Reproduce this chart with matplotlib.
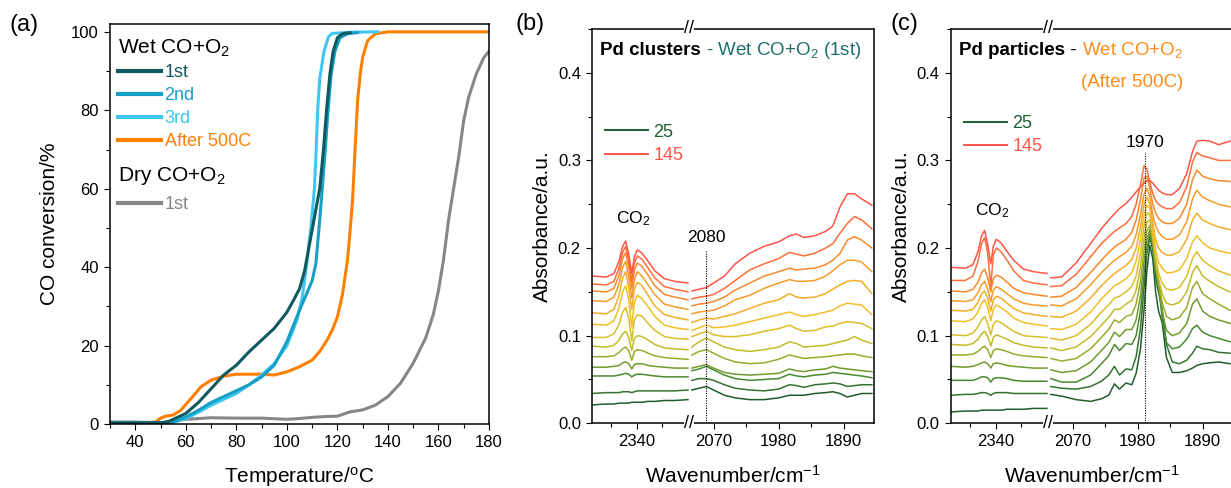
import matplotlib
matplotlib.use("Agg")
from matplotlib import pyplot as plt
from matplotlib.colors import LinearSegmentedColormap
from matplotlib.ticker import MultipleLocator, FixedLocator, FormatStrFormatter
from matplotlib.lines import Line2D

plt.rcParams["font.family"] = ["Liberation Sans", "DejaVu Sans"]
plt.rcParams["mathtext.fontset"] = "custom"
plt.rcParams["mathtext.rm"] = "Liberation Sans"
plt.rcParams["mathtext.it"] = "Liberation Sans:italic"
plt.rcParams["mathtext.bf"] = "Liberation Sans:bold"

# ---------------- panel (a): light-off curves ----------------
t_1st = [30, 40, 45, 50, 53, 56, 60, 65, 70, 75, 80, 85, 90, 95, 100, 103, 105, 107, 109, 111,
         113, 114.5, 115.7, 117, 118.3, 120, 122, 125]
c_1st = [0.3, 0.3, 0.3, 0.3, 0.6, 1.5, 2.7, 5.5, 9.0, 12.5, 15.0, 18.4, 21.4, 24.4, 28.5, 32.0, 34.5, 39.0, 46.0, 53.0,
         60.0, 70.0, 80.0, 89.0, 95.0, 98.5, 99.5, 99.8]
t_2nd = [30, 45, 50, 54, 57, 60, 65, 70, 75, 80, 85, 90, 95, 100, 105, 108, 110, 111.5, 113, 114,
         115.2, 116.3, 117.5, 119, 121, 124, 128]
c_2nd = [0.3, 0.3, 0.3, 0.4, 1.0, 1.8, 3.5, 5.5, 7.0, 8.5, 10.0, 12.0, 15.0, 21.0, 29.0, 33.5, 36.5, 41.0, 52.0, 60.0,
         70.0, 80.0, 89.0, 95.0, 98.5, 99.5, 99.8]
t_3rd = [43, 50, 54, 57, 60, 65, 70, 75, 80, 85, 90, 95, 100, 104, 106, 107.7, 109.5, 110.9, 111.6, 112.2,
         113, 114.7, 116.5, 118, 125, 136]
c_3rd = [0.3, 0.2, 0.3, 0.8, 1.4, 3.0, 4.8, 6.3, 7.8, 10.0, 12.5, 15.4, 20.0, 26.5, 32.0, 40.0, 50.0, 60.0, 70.0, 80.0,
         88.0, 95.0, 98.8, 99.6, 99.9, 100.0]
t_500 = [30, 40, 48, 50, 52, 55, 58, 60, 63, 66, 70, 75, 80, 85, 90, 95, 100, 105, 110, 113, 116, 118,
         120, 122, 124, 125, 126, 127, 128, 129, 130, 132, 135, 140, 150, 165, 180]
c_500 = [0.3, 0.3, 0.5, 1.5, 2.0, 2.3, 3.5, 5.0, 7.2, 9.5, 11.2, 12.2, 12.7, 12.7, 12.7, 12.5, 13.3, 14.6, 16.3, 18.5,
         21.5, 24.0, 27.3, 33.0, 41.8, 49.0, 57.0, 70.0, 82.5, 89.0, 93.5, 97.8, 99.5, 100.0, 100.0, 100.0, 100.0]
t_dry = [30, 40, 50, 55, 60, 65, 70, 80, 90, 100, 105, 110, 115, 120, 125, 130, 135, 140, 145, 150,
         155, 158, 160, 162, 164, 166, 168, 170, 172, 175, 178, 180]
c_dry = [0.5, 0.5, 0.3, 0.8, 1.2, 1.4, 1.6, 1.5, 1.5, 1.2, 1.4, 1.7, 1.9, 2.0, 3.1, 3.6, 4.8, 7.0, 10.4, 15.5,
         22.0, 28.0, 34.0, 41.8, 52.0, 60.0, 68.0, 77.4, 83.4, 89.3, 93.5, 95.0]

# ---------------- panels (b) and (c): DRIFTS spectra ----------------
temps = [145, 135, 125, 115, 105, 95, 85, 75, 65, 55, 45, 35, 25]
wn_co2 = [2428, 2400, 2385, 2375, 2368, 2362, 2356, 2350, 2345, 2339, 2330, 2318, 2305, 2286, 2266, 2240]

clusters_co2 = [
    [.168, .167, .171, .185, .202, .208, .193, .171, .190, .198, .194, .185, .174, .165, .162, .160],
    [.159, .158, .162, .177, .195, .202, .186, .162, .183, .191, .187, .177, .166, .156, .153, .150],
    [.151, .150, .154, .169, .188, .195, .178, .154, .175, .183, .179, .169, .157, .147, .144, .141],
    [.140, .139, .144, .159, .178, .185, .167, .143, .164, .173, .168, .158, .147, .136, .133, .130],
    [.126, .125, .130, .146, .166, .173, .155, .130, .153, .161, .157, .146, .134, .124, .121, .118],
    [.113, .112, .117, .132, .150, .157, .141, .110, .138, .146, .142, .133, .122, .112, .109, .107],
    [.098, .098, .102, .113, .127, .132, .120, .094, .118, .124, .122, .114, .106, .099, .097, .096],
    [.088, .087, .089, .095, .102, .105, .098, .083, .097, .100, .099, .095, .090, .086, .085, .084],
    [.076, .076, .077, .081, .085, .087, .083, .072, .082, .084, .083, .080, .077, .075, .074, .073],
    [.064, .064, .065, .066, .069, .070, .068, .062, .067, .068, .068, .066, .065, .064, .063, .063],
    [.054, .054, .054, .055, .056, .057, .056, .053, .055, .056, .056, .055, .054, .053, .053, .053],
    [.034, .035, .035, .035, .036, .036, .036, .035, .036, .037, .037, .037, .037, .037, .037, .038],
    [.021, .022, .022, .023, .023, .023, .023, .024, .024, .024, .024, .025, .025, .026, .026, .027],
]

wn_clusters_co = [2100, 2090, 2080, 2070, 2055, 2040, 2020, 2000, 1980, 1965,
                  1955, 1945, 1930, 1915, 1905, 1895, 1885, 1875, 1865, 1851]
clusters_co = [
    [.151, .153, .155, .160, .168, .182, .194, .202, .207, .214, .216, .212, .214, .219, .225, .247, .262, .262, .256, .249],
    [.142, .144, .145, .147, .154, .163, .175, .182, .188, .195, .193, .191, .194, .200, .205, .217, .228, .236, .232, .222],
    [.134, .136, .137, .139, .144, .152, .160, .168, .173, .177, .175, .176, .177, .181, .186, .194, .209, .213, .209, .200],
    [.125, .127, .128, .129, .134, .141, .146, .154, .160, .164, .162, .162, .163, .168, .174, .181, .186, .186, .184, .173],
    [.115, .118, .120, .119, .122, .125, .131, .137, .141, .148, .144, .143, .144, .148, .153, .158, .162, .163, .162, .148],
    [.106, .109, .112, .109, .110, .112, .116, .120, .124, .127, .124, .122, .124, .127, .129, .134, .137, .136, .135, .124],
    [.099, .102, .105, .101, .099, .099, .101, .105, .108, .112, .108, .105, .106, .110, .111, .114, .116, .115, .114, .108],
    [.087, .093, .097, .093, .087, .084, .082, .084, .087, .093, .091, .087, .088, .089, .091, .093, .095, .099, .095, .091],
    [.078, .082, .084, .080, .074, .070, .068, .069, .073, .078, .076, .074, .075, .076, .077, .078, .079, .079, .077, .075],
    [.063, .065, .067, .063, .058, .056, .055, .056, .057, .062, .060, .059, .061, .062, .065, .063, .062, .061, .060, .059],
    [.060, .062, .065, .061, .055, .051, .049, .050, .051, .056, .054, .053, .055, .056, .058, .057, .056, .055, .054, .052],
    [.049, .051, .051, .049, .044, .040, .038, .037, .039, .044, .043, .041, .044, .045, .046, .045, .042, .043, .044, .044],
    [.038, .040, .042, .038, .032, .029, .027, .027, .029, .032, .032, .032, .034, .035, .036, .034, .030, .032, .034, .034],
]

particles_co2 = [
    [.178, .177, .181, .196, .214, .220, .204, .182, .202, .210, .206, .196, .186, .176, .173, .171],
    [.163, .163, .168, .185, .205, .212, .194, .156, .192, .200, .196, .186, .174, .163, .160, .158],
    [.151, .150, .153, .161, .172, .176, .166, .150, .165, .169, .167, .161, .154, .149, .147, .145],
    [.140, .139, .141, .149, .158, .162, .153, .139, .152, .156, .153, .148, .142, .137, .135, .134],
    [.129, .128, .130, .138, .148, .151, .143, .128, .141, .145, .143, .137, .131, .126, .124, .122],
    [.117, .116, .119, .127, .137, .141, .132, .117, .130, .135, .132, .127, .120, .115, .113, .111],
    [.101, .100, .103, .110, .118, .122, .114, .101, .113, .117, .115, .110, .105, .100, .099, .098],
    [.090, .089, .091, .096, .102, .105, .099, .088, .098, .101, .099, .096, .092, .089, .087, .086],
    [.078, .078, .079, .082, .086, .088, .084, .075, .083, .085, .084, .082, .079, .077, .076, .075],
    [.065, .064, .065, .067, .069, .070, .068, .063, .068, .069, .068, .066, .065, .064, .063, .063],
    [.049, .049, .049, .051, .053, .053, .052, .047, .051, .052, .052, .051, .049, .048, .048, .048],
    [.032, .033, .033, .034, .035, .035, .034, .032, .034, .035, .035, .035, .034, .034, .034, .034],
    [.013, .014, .014, .014, .015, .015, .015, .015, .015, .015, .015, .016, .016, .016, .017, .017],
]

wn_particles_co = [2100, 2085, 2065, 2045, 2030, 2020, 2012, 2005, 1996, 1988, 1982, 1976, 1971, 1967, 1963,
                   1959, 1955, 1951, 1946, 1940, 1932, 1922, 1912, 1904, 1898, 1890, 1880, 1868, 1852]
particles_co = [
    [.166, .167, .183, .205, .222, .232, .239, .245, .251, .258, .264, .270, .274, .277, .277,
     .274, .270, .266, .263, .261, .261, .268, .285, .310, .322, .323, .322, .318, .322],
    [.156, .157, .170, .190, .205, .213, .219, .223, .228, .236, .250, .272, .294, .290, .275,
     .262, .254, .250, .247, .245, .245, .252, .270, .298, .309, .305, .303, .300, .300],
    [.144, .145, .155, .172, .186, .195, .201, .205, .210, .218, .232, .255, .280, .282, .268,
     .250, .240, .234, .230, .228, .228, .234, .250, .278, .289, .282, .279, .277, .276],
    [.135, .134, .142, .158, .172, .180, .186, .190, .195, .202, .215, .238, .262, .268, .258,
     .238, .225, .218, .213, .210, .210, .215, .230, .256, .266, .258, .254, .250, .247],
    [.122, .121, .128, .143, .157, .165, .171, .175, .180, .187, .200, .224, .250, .258, .250,
     .228, .210, .200, .195, .192, .192, .196, .210, .232, .240, .232, .228, .224, .221],
    [.108, .107, .113, .127, .142, .150, .157, .160, .165, .172, .185, .210, .238, .249, .245,
     .222, .198, .184, .177, .172, .172, .175, .188, .207, .214, .206, .200, .197, .194],
    [.097, .095, .100, .113, .127, .135, .143, .145, .150, .156, .168, .194, .226, .240, .238,
     .218, .190, .172, .160, .153, .152, .155, .168, .188, .196, .186, .180, .174, .169],
    [.086, .083, .087, .099, .112, .121, .130, .130, .136, .140, .152, .178, .212, .230, .232,
     .214, .185, .165, .148, .137, .135, .138, .150, .172, .180, .168, .162, .156, .150],
    [.074, .071, .074, .085, .098, .107, .118, .115, .122, .124, .136, .162, .198, .220, .226,
     .210, .180, .162, .138, .122, .118, .121, .132, .155, .162, .148, .142, .136, .129],
    [.061, .058, .060, .070, .083, .092, .104, .099, .107, .107, .118, .145, .185, .210, .221,
     .207, .176, .160, .128, .106, .100, .103, .114, .136, .142, .128, .122, .118, .114],
    [.051, .047, .047, .055, .068, .077, .090, .083, .091, .090, .100, .128, .170, .200, .216,
     .204, .172, .158, .120, .092, .085, .087, .096, .108, .112, .104, .100, .097, .093],
    [.042, .040, .039, .042, .048, .055, .065, .055, .062, .061, .076, .108, .155, .195, .212,
     .198, .165, .150, .130, .090, .070, .068, .072, .080, .088, .085, .084, .081, .080],
    [.033, .031, .027, .025, .028, .032, .045, .039, .046, .044, .057, .085, .130, .175, .203,
     .188, .150, .128, .115, .075, .058, .058, .060, .063, .066, .068, .069, .070, .068],
]

temp_cmap = LinearSegmentedColormap.from_list(
    "temps", [(0, "#1e5e30"), (0.17, "#4a8a30"), (0.42, "#c4bc28"),
              (0.58, "#f0c028"), (0.83, "#fa8a28"), (1, "#ff5448")])


def temp_color(t):
    return temp_cmap((t - 25) / 120)


def style_axis(ax):
    for sp in ax.spines.values():
        sp.set_linewidth(1.1)
    ax.tick_params(which="both", direction="out", labelsize=12, width=0.8)
    ax.tick_params(which="major", length=4.5)
    ax.tick_params(which="minor", length=2.8)


fig = plt.figure(figsize=(12.31, 4.88), dpi=100)

# ---------- (a) ----------
ax_a = fig.add_axes([0.0894, 0.1311, 0.3078, 0.8197])
col_1st, col_2nd, col_3rd, col_500, col_dry = "#0e5a60", "#189fc6", "#3fc6f0", "#ff8000", "#868686"
ax_a.plot(t_dry, c_dry, color=col_dry, lw=2.2)
ax_a.plot(t_500, c_500, color=col_500, lw=2.2)
ax_a.plot(t_3rd, c_3rd, color=col_3rd, lw=2.2)
ax_a.plot(t_2nd, c_2nd, color=col_2nd, lw=2.2)
ax_a.plot(t_1st, c_1st, color=col_1st, lw=2.2)
ax_a.set_xlim(30, 180)
ax_a.set_ylim(0, 102)
ax_a.xaxis.set_major_locator(MultipleLocator(20))
ax_a.xaxis.set_minor_locator(MultipleLocator(10))
ax_a.yaxis.set_major_locator(MultipleLocator(20))
ax_a.yaxis.set_minor_locator(MultipleLocator(10))
style_axis(ax_a)
ax_a.set_xlabel("Temperature/$^\\mathrm{o}$C", fontsize=15, labelpad=11)
ax_a.set_ylabel("CO conversion/%", fontsize=15, labelpad=9)

wet_handles = [Line2D([], [], color=c, lw=3) for c in (col_1st, col_2nd, col_3rd, col_500)]
leg1 = ax_a.legend(wet_handles, ["1st", "2nd", "3rd", "After 500C"], title="Wet CO+O$_2$",
                   loc="upper left", bbox_to_anchor=(0.02, 0.967), frameon=False, fontsize=13,
                   title_fontsize=15, alignment="left", labelcolor="linecolor", handlelength=2.4,
                   handletextpad=0.2, labelspacing=0.33, borderpad=0, borderaxespad=0)
ax_a.add_artist(leg1)
ax_a.legend([Line2D([], [], color=col_dry, lw=3)], ["1st"], title="Dry CO+O$_2$",
            loc="upper left", bbox_to_anchor=(0.02, 0.647), frameon=False, fontsize=13,
            title_fontsize=15, alignment="left", labelcolor="linecolor", handlelength=2.4,
            handletextpad=0.2, labelspacing=0.5, borderpad=0, borderaxespad=0)


# ---------- (b), (c) ----------
def spectra_panel(x0, co2_rows, wn_co, co_rows, line_wn, line_top, label_y, co2_y, leg_y):
    w_left, w_right = 0.0788, 0.1503
    ax_l = fig.add_axes([x0, 0.1326, w_left, 0.808])
    ax_r = fig.add_axes([x0 + w_left, 0.1326, w_right, 0.808])
    for i in range(len(temps) - 1, -1, -1):
        col = temp_color(temps[i])
        ax_l.plot(wn_co2, co2_rows[i], color=col, lw=1.1)
        ax_r.plot(wn_co, co_rows[i], color=col, lw=1.1)
    ax_l.set_xlim(2428, 2238)
    ax_r.set_xlim(2104, 1848)
    for ax in (ax_l, ax_r):
        ax.set_ylim(0, 0.45)
        style_axis(ax)
    ax_l.spines["right"].set_visible(False)
    ax_r.spines["left"].set_visible(False)
    ax_l.xaxis.set_major_locator(FixedLocator([2340]))
    ax_l.xaxis.set_minor_locator(FixedLocator([2390, 2290]))
    ax_r.xaxis.set_major_locator(FixedLocator([2070, 1980, 1890]))
    ax_r.xaxis.set_minor_locator(FixedLocator([2025, 1935]))
    ax_l.yaxis.set_major_locator(MultipleLocator(0.1))
    ax_l.yaxis.set_minor_locator(MultipleLocator(0.05))
    ax_l.yaxis.set_major_formatter(FormatStrFormatter("%.1f"))
    ax_r.tick_params(axis="y", which="both", left=False, labelleft=False)
    ax_l.set_ylabel("Absorbance/a.u.", fontsize=15, labelpad=4)

    for yy in (0, 1):
        ax_r.text(0, yy, "//", transform=ax_r.transAxes, ha="center", va="center", fontsize=13,
                  bbox=dict(fc="white", ec="none", pad=0.3), zorder=5)

    ax_r.vlines(line_wn, 0, line_top, colors="k", linestyles=(0, (1, 1.2)), lw=0.8)
    ax_r.text(line_wn, label_y, str(line_wn), ha="center", va="center", fontsize=12.5)
    ax_l.text(2347, co2_y, "CO$_2$", ha="center", va="center", fontsize=12.5)

    handles = [Line2D([], [], color=temp_color(25), lw=1.4), Line2D([], [], color=temp_color(145), lw=1.4)]
    ax_l.legend(handles, ["25", "145"], loc="upper left", bbox_to_anchor=(0.13, leg_y), frameon=False,
                fontsize=13, labelcolor=[temp_color(25), temp_color(145)], handlelength=2.4,
                handletextpad=0.3, labelspacing=0.36, borderpad=0, borderaxespad=0)
    fig.text(x0 + (w_left + w_right) / 2, 0.025, "Wavenumber/cm$^{-1}$", ha="center", va="center",
             fontsize=15)
    return ax_l, ax_r


spectra_panel(0.4809, clusters_co2, wn_clusters_co, clusters_co, 2080, 0.197, 0.2125, 0.234, 0.76)
spectra_panel(0.7725, particles_co2, wn_particles_co, particles_co, 1970, 0.308, 0.32, 0.243, 0.782)

# panel titles (multi-coloured)
renderer = fig.canvas.get_renderer()


def put_after(prev, s, color, **kw):
    bb = prev.get_window_extent(renderer)
    return fig.text(bb.x1 / fig.bbox.width, prev.get_position()[1], s, color=color,
                    va="baseline", fontsize=13.5, **kw)


teal, orange = "#1f6e6e", "#ff8c1a"
tb = fig.text(0.4874, 0.8873, "Pd clusters", fontsize=13.5, fontweight="bold", va="baseline")
put_after(tb, " - Wet CO+O$_2$ (1st)", teal)
tc = fig.text(0.7788, 0.8873, "Pd particles", fontsize=13.5, fontweight="bold", va="baseline")
tc2 = put_after(tc, " - ", "black")
put_after(tc2, "Wet CO+O$_2$", orange)
fig.text(0.8781, 0.8217, "(After 500C)", fontsize=13.5, color=orange, va="baseline")

fig.text(0.008, 0.949, "(a)", fontsize=17, va="center")
fig.text(0.419, 0.951, "(b)", fontsize=17, va="center")
fig.text(0.723, 0.951, "(c)", fontsize=17, va="center")

fig.savefig("out.png", dpi=100)
